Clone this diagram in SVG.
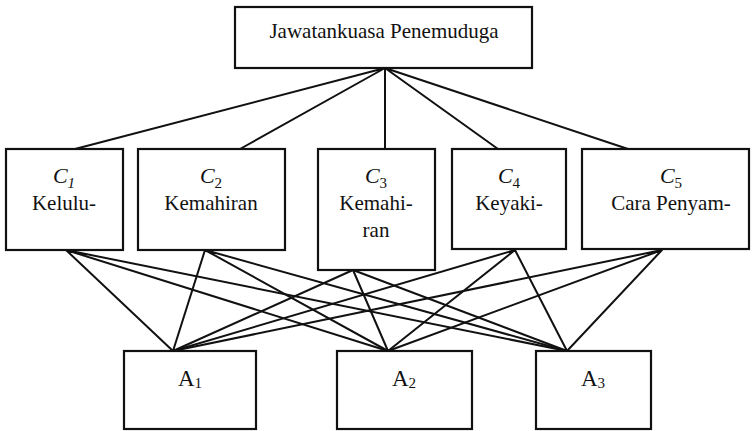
<svg xmlns="http://www.w3.org/2000/svg" width="756" height="431" viewBox="0 0 756 431">
<style>
.box{fill:#fff;stroke:#111;stroke-width:2.2}
.ln{stroke:#111;stroke-width:2;fill:none;stroke-linecap:round}
text{font-family:"Liberation Serif","Times New Roman",serif;fill:#111;text-anchor:middle}
.t{font-size:21px}
.c{font-size:22px;font-style:italic}
.a{font-size:23px}
.sub{font-size:15px}
</style>
<rect width="756" height="431" fill="#fff"/>
<g id="connectors">
<path class="ln" d="M385 68L75 149M385 68L240 149M385 68L385 149M385 68L498 149M385 68L628 149"/>
<path class="ln" d="M66 250L173 351M66 250L388 351M66 250L567 351"/>
<path class="ln" d="M205 250L173 351M205 250L388 351M205 250L567 351"/>
<path class="ln" d="M353 270L173 351M353 270L388 351M353 270L567 351"/>
<path class="ln" d="M515 250L173 351M515 250L388 351M515 250L567 351"/>
<path class="ln" d="M662 250L173 351M662 250L388 351M662 250L567 351"/>
</g>
<g id="top">
<rect class="box" x="235" y="7" width="297" height="61"/>
<text class="t" x="384" y="38">Jawatankuasa Penemuduga</text>
</g>
<g id="c1">
<rect class="box" x="6" y="149" width="117" height="101"/>
<text class="c" x="64" y="183">C<tspan class="sub" dy="5">1</tspan></text>
<text class="t" x="64" y="210">Kelulu-</text>
</g>
<g id="c2">
<rect class="box" x="138" y="149" width="147" height="101"/>
<text class="c" x="211" y="183">C<tspan class="sub" dy="5" font-style="normal">2</tspan></text>
<text class="t" x="211" y="210">Kemahiran</text>
</g>
<g id="c3">
<rect class="box" x="318" y="149" width="117" height="121"/>
<text class="c" x="376" y="183">C<tspan class="sub" dy="5" font-style="normal">3</tspan></text>
<text class="t" x="376" y="210">Kemahi-</text>
<text class="t" x="376" y="237">ran</text>
</g>
<g id="c4">
<rect class="box" x="452" y="149" width="114" height="100"/>
<text class="c" x="509" y="183">C<tspan class="sub" dy="5" font-style="normal">4</tspan></text>
<text class="t" x="509" y="210">Keyaki-</text>
</g>
<g id="c5">
<rect class="box" x="582" y="149" width="167" height="100"/>
<text class="c" x="671" y="183">C<tspan class="sub" dy="5" font-style="normal">5</tspan></text>
<text class="t" x="671" y="210">Cara Penyam-</text>
</g>
<g id="a1">
<rect class="box" x="124" y="351" width="132" height="78"/>
<text class="a" x="190" y="386">A<tspan class="sub" dy="2">1</tspan></text>
</g>
<g id="a2">
<rect class="box" x="337" y="351" width="135" height="78"/>
<text class="a" x="404" y="386">A<tspan class="sub" dy="2">2</tspan></text>
</g>
<g id="a3">
<rect class="box" x="536" y="351" width="115" height="78"/>
<text class="a" x="593" y="386">A<tspan class="sub" dy="2">3</tspan></text>
</g>
</svg>
